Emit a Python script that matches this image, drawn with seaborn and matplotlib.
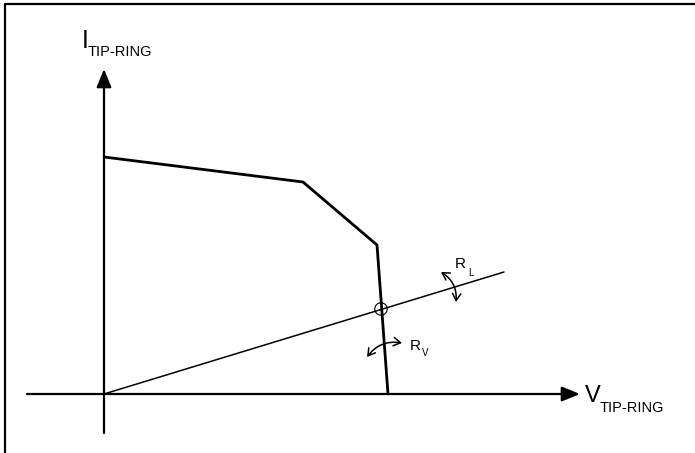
import matplotlib
matplotlib.use("Agg")
import matplotlib.pyplot as plt
from matplotlib.lines import Line2D
import seaborn as sns

# ── Data (arbitrary V / I units, origin at the axes crossing) ────────────────
curve_v = [0, 199, 273, 284]
curve_i = [237, 212, 149, 0]
load_v = [0, 400]
load_i = [0, 122]
op_v = [277]
op_i = [85]

x_axis = (-77, 476)
y_axis = (-39, 325)

sns.set_theme(style="white")
plt.rcParams["font.family"] = ["Liberation Sans", "DejaVu Sans"]
plt.rcParams["text.color"] = "black"

fig = plt.figure(figsize=(6.95, 4.53), dpi=100)
ax = fig.add_axes([0, 0, 1, 1])
ax.set_xlim(-104, 591)
ax.set_ylim(-59, 394)
ax.axis("off")

# axes with arrow heads
head = "-|>,head_length=1.1,head_width=0.45"
ax.annotate("", xy=(x_axis[1], 0), xytext=(x_axis[0], 0),
            arrowprops=dict(arrowstyle=head, color="black", lw=1.6,
                            mutation_scale=10, shrinkA=0, shrinkB=0))
ax.annotate("", xy=(0, y_axis[1]), xytext=(0, y_axis[0]),
            arrowprops=dict(arrowstyle=head, color="black", lw=1.6,
                            mutation_scale=10, shrinkA=0, shrinkB=0))

# I-V characteristic and load line
sns.lineplot(x=curve_v, y=curve_i, sort=False, color="black", lw=2.0, ax=ax)
sns.lineplot(x=load_v, y=load_i, sort=False, color="black", lw=1.1, ax=ax)
sns.scatterplot(x=op_v, y=op_i, s=80, facecolors="none", edgecolor="black",
                linewidth=0.8, ax=ax)

# curved adjustment arrows
small = "<->,head_length=0.5,head_width=0.3"
ax.annotate("", xy=(352, 92), xytext=(337, 122),
            arrowprops=dict(arrowstyle=small, color="black", lw=1.1,
                            mutation_scale=10, shrinkA=0, shrinkB=0,
                            connectionstyle="arc3,rad=-0.3"))
ax.annotate("", xy=(298, 51), xytext=(263, 37),
            arrowprops=dict(arrowstyle=small, color="black", lw=1.1,
                            mutation_scale=10, shrinkA=0, shrinkB=0,
                            connectionstyle="arc3,rad=-0.3"))

# labels
ax.text(-22, 346, "I", fontsize=18, va="baseline", ha="left", color="black")
ax.text(-16, 338, "TIP-RING", fontsize=10.5, va="baseline", ha="left", color="black")
ax.text(481, -8, "V", fontsize=17, va="baseline", ha="left", color="black")
ax.text(496, -18, "TIP-RING", fontsize=10.5, va="baseline", ha="left", color="black")
ax.text(351, 126, "R", fontsize=11, va="baseline", ha="left", color="black")
ax.text(364, 118, "L", fontsize=7, va="baseline", ha="left", color="black")
ax.text(306, 44, "R", fontsize=11, va="baseline", ha="left", color="black")
ax.text(318, 38, "V", fontsize=7, va="baseline", ha="left", color="black")

# frame (left and top edges)
fx, fy = 5 / 695, 1 - 4 / 453
fig.add_artist(Line2D([fx, fx, 1], [0, fy, fy], transform=fig.transFigure,
                      color="black", lw=1.6))

fig.savefig("out.png", dpi=100)
